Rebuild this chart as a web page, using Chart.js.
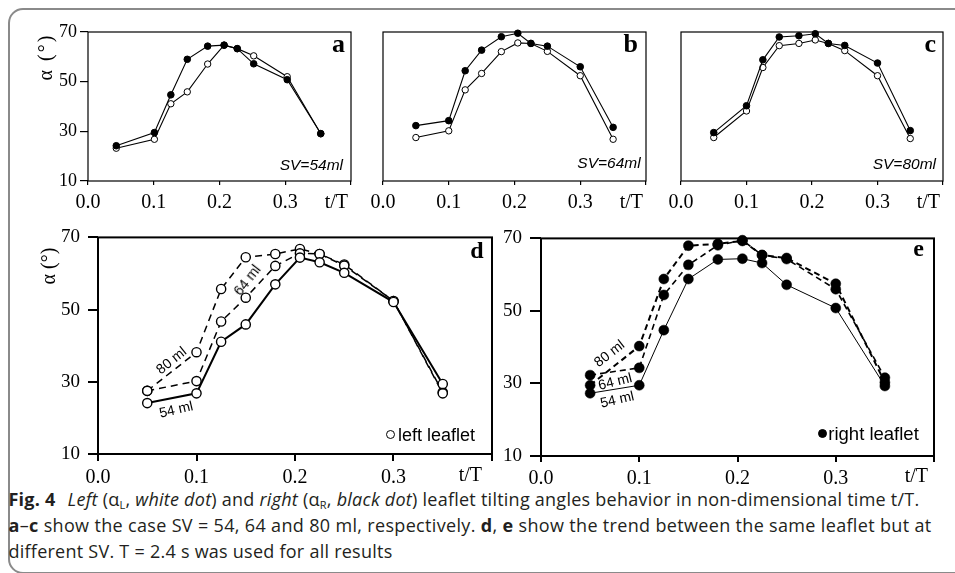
<!DOCTYPE html>
<html><head><meta charset="utf-8">
<script src="https://cdn.jsdelivr.net/npm/chart.js@4.4.1/dist/chart.umd.min.js"></script>
<style>
html,body{margin:0;padding:0;}
body{width:955px;height:573px;background:#fff;position:relative;overflow:hidden;}
#frame{position:absolute;left:8px;top:8px;width:970px;height:566px;border:2px solid #8a8a8a;border-radius:15px;box-sizing:border-box;}
.t{position:absolute;white-space:nowrap;color:#000;}
.cap{position:absolute;left:8.5px;white-space:nowrap;font-family:'Open Sans';font-size:18px;line-height:26px;color:#231f20;letter-spacing:0.2px;}
.cap sub{font-size:11px;line-height:0;vertical-align:-3px;}
.mk{position:absolute;border-radius:50%;box-sizing:border-box;}
</style></head>
<body>
<div id="frame"></div>
<div class="cap" id="c1" style="top:486px"><b>Fig. 4</b><span style="display:inline-block;width:12px"></span><i>Left</i> (α<sub>L</sub>, <i>white dot</i>) and <i>right</i> (α<sub>R</sub>, <i>black dot</i>) leaflet tilting angles behavior in non-dimensional time t/T.</div>
<div class="cap" id="c2" style="top:512px"><b>a</b>–<b>c</b> show the case SV = 54, 64 and 80 ml, respectively. <b>d</b>, <b>e</b> show the trend between the same leaflet but at</div>
<div class="cap" id="c3" style="top:538px">different SV. T = 2.4 s was used for all results</div>
<script>
// ---- data ----
const xTicks = [0, 0.1, 0.2, 0.3, 0.4];
const yTicks = [10, 30, 50, 70];
const tA   = [0.043, 0.101, 0.126, 0.151, 0.182, 0.207, 0.227, 0.252, 0.303, 0.354];
const tAll = [0.05, 0.1, 0.125, 0.15, 0.18, 0.205, 0.225, 0.25, 0.3, 0.35];
const leftA  = [23.2, 26.8, 41.1, 45.9, 57.1, 64.7, 63.3, 60.4, 52.0, 29.0];
const rightA = [24.2, 29.5, 44.7, 59.0, 64.3, 64.7, 63.3, 57.2, 50.8, 29.1];
const leftB  = [27.5, 30.2, 46.7, 53.3, 62.1, 65.6, 65.4, 62.2, 52.4, 26.8];
const rightB = [32.3, 34.3, 54.4, 62.7, 68.1, 69.5, 65.4, 64.3, 56.0, 31.6];
const leftC  = [27.5, 38.2, 55.7, 64.5, 65.4, 66.8, 65.4, 62.5, 52.4, 27.1];
const rightC = [29.5, 40.3, 58.8, 68.0, 68.5, 69.3, 65.4, 64.6, 57.5, 30.3];
const left54  = [24.1, 26.8, 41.1, 45.9, 57.0, 64.4, 63.1, 60.2, 52.1, 29.4];
const right54 = [27.3, 29.5, 44.7, 58.8, 64.2, 64.4, 63.2, 57.2, 50.8, 29.3];

const framePlugin = w => ({id:'frame', beforeDatasetsDraw(c){
  const a=c.chartArea, x=c.ctx; x.save(); x.strokeStyle='#000'; x.lineWidth=w;
  x.strokeRect(a.left,a.top,a.right-a.left,a.bottom-a.top); x.restore();}});

function ds(ts, vals, st){
  return Object.assign({data: ts.map((t,i)=>({x:t,y:vals[i]})), borderColor:'#000', borderWidth:1.1,
    pointRadius:3.3, pointBackgroundColor:'#000', pointBorderColor:'#000', pointBorderWidth:1,
    clip:false, tension:0, fill:false}, st);
}

function panel(box, opt, datasets){
  const yW = opt.yLabels ? opt.yW : 0;
  const padL = opt.yLabels ? 0 : 20, padR = 24, padT = 14, xH = 40;
  const W = box.r-box.l+yW+padL+padR, H = box.b-box.t+padT+xH;
  const cv = document.createElement('canvas');
  cv.width=W; cv.height=H;
  cv.style.cssText=`position:absolute;left:${box.l-yW-padL}px;top:${box.t-padT}px;width:${W}px;height:${H}px`;
  document.body.appendChild(cv);
  new Chart(cv,{type:'line',data:{datasets},options:{
    responsive:false, animation:false, devicePixelRatio:1,
    layout:{padding:{left:padL,right:padR,top:padT,bottom:0}},
    plugins:{legend:{display:false},tooltip:{enabled:false}},
    scales:{
      x:{type:'linear',min:0,max:0.4,
        afterBuildTicks:s=>{s.ticks=xTicks.map(v=>({value:v}));},
        ticks:{callback:v=>v>0.39?'':v.toFixed(1),font:{family:'Liberation Serif',size:20},color:'#000',padding:opt.xPad,maxRotation:0,autoSkip:false},
        grid:{drawOnChartArea:false,drawTicks:true,tickLength:opt.xTick,color:'#000',lineWidth:opt.frameW},
        border:{display:false},
        afterFit:s=>{s.height=xH;}},
      y:{min:10,max:70,
        afterBuildTicks:s=>{s.ticks=yTicks.map(v=>({value:v}));},
        ticks:{display:opt.yLabels,font:{family:'Liberation Serif',size:opt.ySize||18},color:'#000',padding:opt.yPad||3},
        grid:{display:opt.yLabels,drawOnChartArea:false,drawTicks:true,tickLength:opt.yTick||8,color:'#000',lineWidth:opt.frameW},
        border:{display:false},
        afterFit:s=>{s.width=yW;}}
    }},plugins:[framePlugin(opt.frameW)]});
}

const blackS = {pointRadius:3.3};
const whiteS = {pointRadius:3.2, pointBackgroundColor:'#fff'};
const topOpt = {frameW:1.2, xPad:5.5, xTick:4};

panel({l:88,t:32,r:351,b:181}, Object.assign({yLabels:true,yW:50,ySize:18,yPad:3,yTick:8},topOpt),
  [ds(tA,rightA,blackS), ds(tA,leftA,whiteS)]);
panel({l:383,t:32,r:646,b:181}, Object.assign({yLabels:false},topOpt),
  [ds(tAll,rightB,blackS), ds(tAll,leftB,whiteS)]);
panel({l:681,t:32,r:943,b:181}, Object.assign({yLabels:false},topOpt),
  [ds(tAll,rightC,blackS), ds(tAll,leftC,whiteS)]);

const wD = {pointRadius:4.6, pointBackgroundColor:'#fff', pointBorderWidth:1.4};
panel({l:98,t:232,r:492,b:454}, {yLabels:true,yW:60,ySize:19,yPad:8,yTick:10,frameW:2,xPad:5,xTick:7},
  [ds(tAll,left54,Object.assign({borderWidth:2},wD)),
   ds(tAll,leftB,Object.assign({borderWidth:1.5,borderDash:[7,5]},wD)),
   ds(tAll,leftC,Object.assign({borderWidth:1.5,borderDash:[7,5]},wD))]);
const bE = {pointRadius:5, pointBorderWidth:0.5};
panel({l:541,t:233,r:934,b:456}, {yLabels:true,yW:60,ySize:19,yPad:8,yTick:11,frameW:2,xPad:5,xTick:6},
  [ds(tAll,right54,Object.assign({borderWidth:1},bE)),
   ds(tAll,rightB,Object.assign({borderWidth:1.6,borderDash:[6,4]},bE)),
   ds(tAll,rightC,Object.assign({borderWidth:2,borderDash:[6,4]},bE))]);

// ---- text annotations ----
function txt(html, x, base, font, size, align, extra){
  const d=document.createElement('div'); d.className='t'; d.innerHTML=html;
  d.style.font=font; d.style.fontSize=size+'px'; d.style.lineHeight=size+'px';
  d.style.left=x+'px'; d.style.top=(base-0.84*size)+'px';
  if(align==='right') d.style.transform='translateX(-100%)';
  if(align==='center') d.style.transform='translateX(-50%)';
  if(extra) Object.assign(d.style, extra);
  document.body.appendChild(d); return d;
}
function rot(html, cx, cy, font, size, deg, extra){
  const d=document.createElement('div'); d.className='t'; d.innerHTML=html;
  d.style.font=font; d.style.fontSize=size+'px'; d.style.lineHeight=size+'px';
  d.style.left=cx+'px'; d.style.top=cy+'px';
  d.style.transform=`translate(-50%,-50%) rotate(${deg}deg)`;
  if(extra) Object.assign(d.style, extra);
  document.body.appendChild(d); return d;
}
const SERIF="'Liberation Serif'", SANS="'Liberation Sans'";
// y-axis titles
rot('α (°)', 45, 57, '20px '+SERIF, 20, -90, {letterSpacing:'2px'});
rot('α (°)', 48, 266, '20px '+SERIF, 20, -90);
// x-axis end labels
[[348,208],[643,208],[940,208],[482,481],[928,481.5]].forEach(p=>txt('t/T',p[0],p[1],'20px '+SERIF,20,'right'));
// panel letters
txt('a',345,52.7,'bold 26px '+SERIF,26,'right');
txt('b',638,53,'bold 26px '+SERIF,26,'right');
txt('c',936,52.7,'bold 26px '+SERIF,26,'right');
txt('d',483.5,258,'bold 24px '+SERIF,24,'right');
txt('e',924,255.7,'bold 24px '+SERIF,24,'right');
// SV labels
txt('SV=54ml',343,170.5,'italic 15.5px '+SANS,15.5,'right');
txt('SV=64ml',640.7,168.5,'italic 15.5px '+SANS,15.5,'right');
txt('SV=80ml',936,169,'italic 15.5px '+SANS,15.5,'right');
// ml labels
rot('80 ml',170.7,360,'14px '+SANS,14,-39);
rot('64 ml',246.7,280,'14px '+SANS,14,-52);
rot('54 ml',175.7,409,'14px '+SANS,14,-13);
rot('80 ml',609,352.7,'14px '+SANS,14,-38);
rot('64 ml',615,380.7,'14px '+SANS,14,-14);
rot('54 ml',617.3,399,'14px '+SANS,14,-13);
// legends
function mk(cx,cy,d,fill){const m=document.createElement('div');m.className='mk';
  Object.assign(m.style,{left:(cx-d/2)+'px',top:(cy-d/2)+'px',width:d+'px',height:d+'px',background:fill,border:'1.3px solid #000'});
  document.body.appendChild(m);}
mk(390.3,434.3,9.3,'#fff');
txt('left leaflet',398,441,'18px '+SANS,18,'left');
mk(822.7,433.3,9.5,'#000');
txt('right leaflet',828.3,440.5,'18.5px '+SANS,18.5,'left');

// fit caption lines to reference widths
function fit(){
  [['c1',911],['c2',923],['c3',384]].forEach(([id,w])=>{
    const el=document.getElementById(id); el.style.letterSpacing='0px';
    const n=el.textContent.length;
    const cur=el.getBoundingClientRect().width; el.style.letterSpacing=((w-cur)/n)+'px';
  });
}
fit();
if(document.fonts && document.fonts.ready) document.fonts.ready.then(fit);
</script>
</body></html>
